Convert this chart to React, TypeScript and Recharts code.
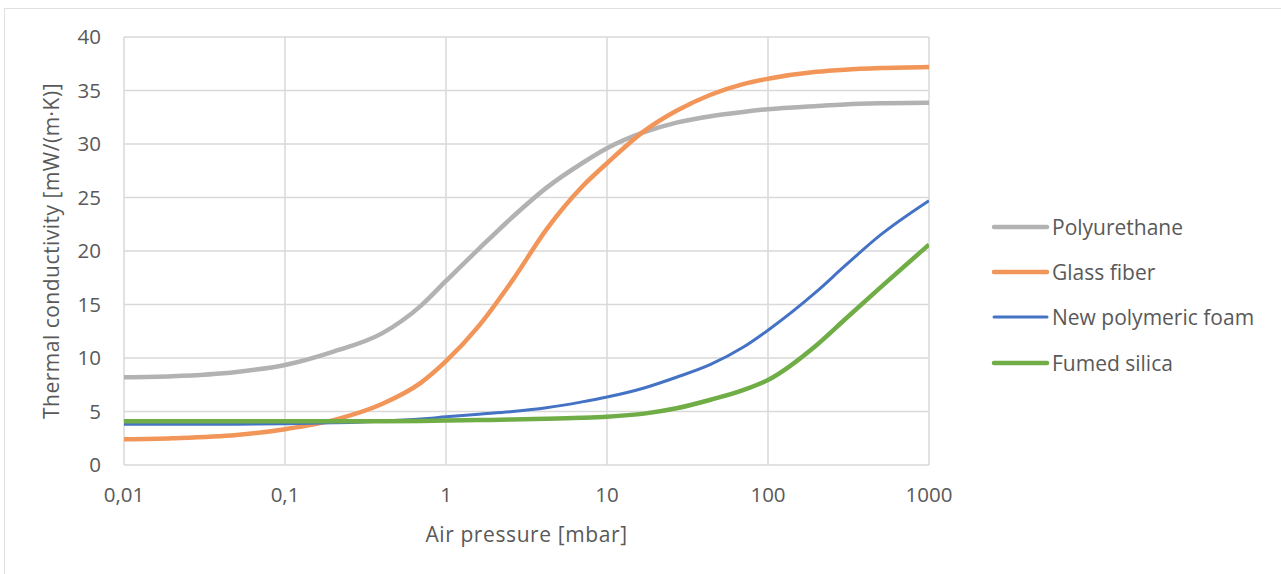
import React from "react"
import {
  LineChart, Line, XAxis, YAxis, CartesianGrid, Label,
} from "recharts"

// air pressure [mbar], log axis
const pressure = [0.01, 0.02, 0.05, 0.1, 0.2, 0.4, 0.7, 1, 1.6, 2.6, 4.2, 7, 10, 17, 27, 44, 70, 100, 200, 300, 500, 1000]

// thermal conductivity [mW/(m·K)]
const polyurethane = [8.2, 8.3, 8.7, 9.35, 10.6, 12.3, 14.9, 17.2, 20.2, 23.2, 25.9, 28.2, 29.6, 31.1, 32.0, 32.6, 33.0, 33.25, 33.55, 33.7, 33.8, 33.85]
const glassFiber   = [2.4, 2.5, 2.8, 3.35, 4.2, 5.7, 7.7, 9.7, 13.0, 17.3, 22.0, 26.0, 28.2, 31.2, 33.1, 34.6, 35.6, 36.1, 36.75, 36.95, 37.1, 37.2]
const polymerFoam  = [3.8, 3.8, 3.82, 3.85, 3.95, 4.1, 4.3, 4.5, 4.75, 5.0, 5.35, 5.9, 6.35, 7.2, 8.2, 9.4, 11.0, 12.6, 16.2, 18.6, 21.5, 24.7]
const fumedSilica  = [4.1, 4.1, 4.1, 4.1, 4.1, 4.1, 4.12, 4.15, 4.2, 4.25, 4.33, 4.42, 4.52, 4.8, 5.3, 6.1, 7.0, 7.95, 11.2, 13.6, 16.6, 20.6]

const xTicks = [0.01, 0.1, 1, 10, 100, 1000]
const yTicks = [0, 5, 10, 15, 20, 25, 30, 35, 40]

const series = [
  { key: "Polyurethane", values: polyurethane, color: "#B2B2B2", width: 4.5 },
  { key: "Glass fiber", values: glassFiber, color: "#F29558", width: 4.5 },
  { key: "New polymeric foam", values: polymerFoam, color: "#4472C4", width: 3 },
  { key: "Fumed silica", values: fumedSilica, color: "#70AD47", width: 4.5 },
]

const FONT = "'Open Sans', sans-serif"
const TEXT = "#595959"
const GRID = "#d9d9d9"

function fmtTick(v: number) {
  return String(v).replace(".", ",")
}

function ChartLegend() {
  return (
    <div style={{ position: "absolute", left: 990, top: 204, fontFamily: FONT, fontSize: 21, color: TEXT }}>
      {series.map((s) => (
        <div key={s.key} style={{ height: 45.4, display: "flex", alignItems: "center" }}>
          <svg width={60} height={10} style={{ marginRight: 2 }}>
            <line x1={4} y1={5} x2={57} y2={5} stroke={s.color} strokeWidth={s.width} strokeLinecap="round" />
          </svg>
          <span>{s.key}</span>
        </div>
      ))}
    </div>
  )
}

export default function App() {
  const data = pressure.map((p, i) => {
    const row: Record<string, number> = { p }
    series.forEach((s) => { row[s.key] = s.values[i] })
    return row
  })

  return (
    <div style={{ position: "absolute", left: 0, top: 0, width: 1281, height: 574, overflow: "hidden", background: "#fff" }}>
      <div style={{ position: "absolute", left: 4, top: 8, width: 1300, height: 620, border: "1.5px solid #e0e0e0" }} />
      <div style={{ position: "absolute", left: 0, top: 0 }}>
        <LineChart width={1281} height={574} data={data}
          margin={{ top: 37, right: 352, bottom: 0, left: 0 }}>
          <CartesianGrid stroke={GRID} strokeWidth={1.5} />
          <XAxis
            dataKey="p" type="number" scale="log" domain={[0.01, 1000]}
            ticks={xTicks} allowDataOverflow
            tickFormatter={fmtTick}
            tick={{ fontSize: 20.5, fill: TEXT, fontFamily: FONT }}
            tickLine={false} axisLine={false} tickSize={0} tickMargin={22}
            height={109}
          >
            <Label value="Air pressure [mbar]" position="insideTop" offset={62}
              style={{ fontSize: 21, fill: TEXT, fontFamily: FONT, letterSpacing: 0.6 }} />
          </XAxis>
          <YAxis
            type="number" domain={[0, 40]} ticks={yTicks}
            tick={{ fontSize: 20.5, fill: TEXT, fontFamily: FONT }}
            tickLine={false} axisLine={false} tickSize={0} tickMargin={23}
            width={124}
          >
            <Label value="Thermal conductivity [mW/(m·K)]" angle={-90} position="insideLeft" offset={52}
              style={{ fontSize: 21, fill: TEXT, fontFamily: FONT, textAnchor: "middle", letterSpacing: 0.5 }} />
          </YAxis>
          {series.map((s) => (
            <Line key={s.key} type="monotone" dataKey={s.key}
              stroke={s.color} strokeWidth={s.width}
              dot={false} activeDot={false} isAnimationActive={false} />
          ))}
        </LineChart>
      </div>
      <ChartLegend />
    </div>
  )
}
